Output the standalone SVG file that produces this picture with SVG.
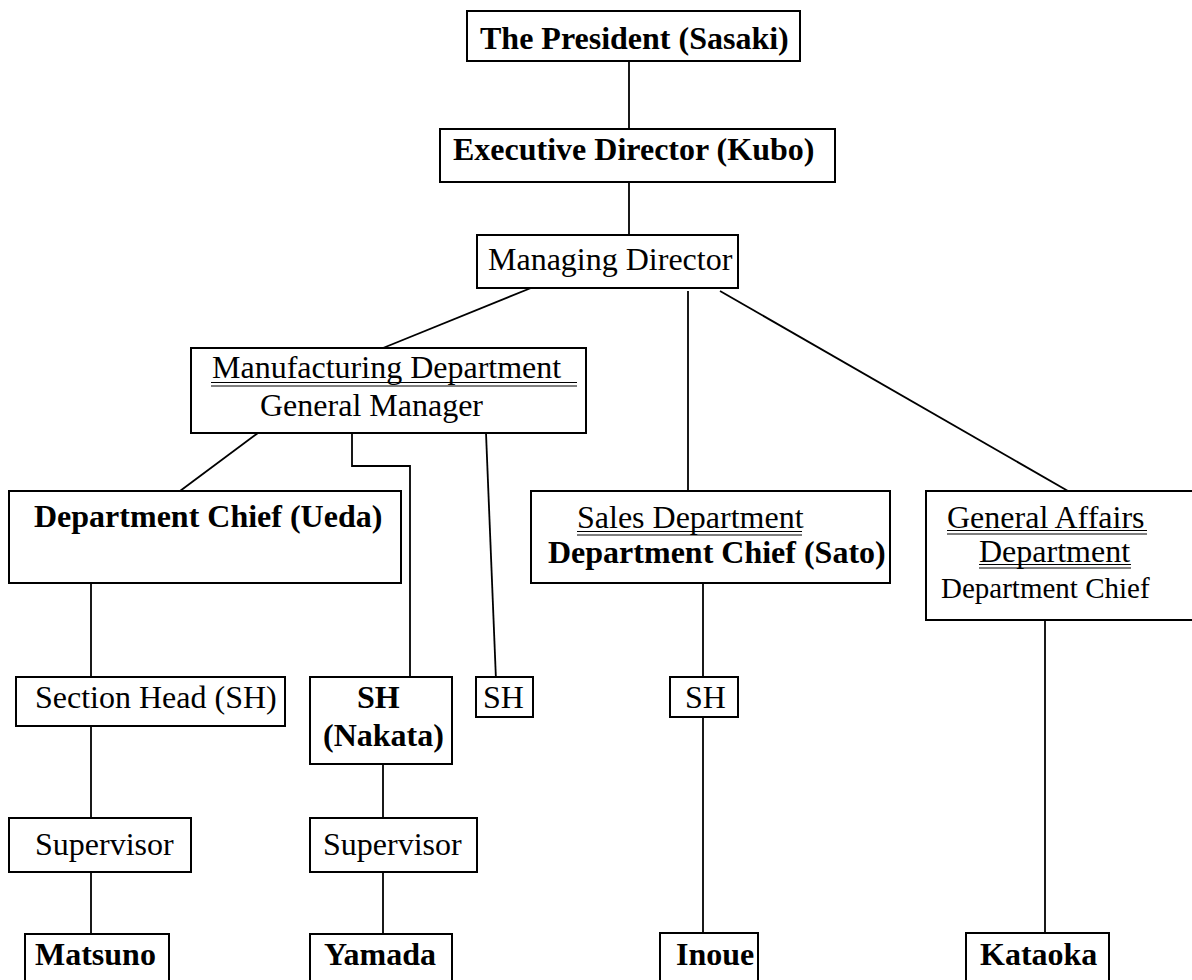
<svg xmlns="http://www.w3.org/2000/svg" width="1192" height="980" viewBox="0 0 1192 980">
<style>
  .box{fill:#fff;stroke:#000;stroke-width:2}
  .t{font-family:"Liberation Serif","Times New Roman",serif;font-size:32px;fill:#000}
  .b{font-weight:bold}
  .ul{stroke:#000;stroke-width:1.2}
  .c{fill:none;stroke:#000;stroke-width:1.8}
</style>
<rect width="1192" height="980" fill="#fff"/>
<g id="connectors">
  <line class="c" x1="629" y1="61" x2="629" y2="129"/>
  <line class="c" x1="629" y1="182" x2="629" y2="235"/>
  <line class="c" x1="531" y1="288" x2="383" y2="348"/>
  <line class="c" x1="688" y1="291" x2="688" y2="491"/>
  <line class="c" x1="720" y1="291" x2="1068" y2="491"/>
  <line class="c" x1="258" y1="433" x2="180" y2="491"/>
  <polyline class="c" points="352,433 352,466 410,466 410,680"/>
  <line class="c" x1="486" y1="433" x2="496" y2="680"/>
  <line class="c" x1="91" y1="583" x2="91" y2="680"/>
  <line class="c" x1="91" y1="726" x2="91" y2="818"/>
  <line class="c" x1="91" y1="872" x2="91" y2="934"/>
  <line class="c" x1="383" y1="764" x2="383" y2="818"/>
  <line class="c" x1="383" y1="872" x2="383" y2="934"/>
  <line class="c" x1="703" y1="583" x2="703" y2="680"/>
  <line class="c" x1="703" y1="717" x2="703" y2="933"/>
  <line class="c" x1="1045" y1="617" x2="1045" y2="933"/>
</g>
<g id="president">
  <rect class="box" x="467" y="11" width="333" height="50"/>
  <text class="t b" x="480" y="49">The President (Sasaki)</text>
</g>
<g id="executive">
  <rect class="box" x="440" y="129" width="395" height="53"/>
  <text class="t b" x="453" y="160">Executive Director (Kubo)</text>
</g>
<g id="managing">
  <rect class="box" x="477" y="235" width="261" height="53"/>
  <text class="t" x="488" y="270">Managing Director</text>
</g>
<g id="manufacturing">
  <rect class="box" x="191" y="348" width="395" height="85"/>
  <text class="t" x="212" y="378">Manufacturing Department</text>
  <line class="ul" x1="211" y1="382.5" x2="577" y2="382.5"/>
  <line class="ul" x1="211" y1="386" x2="577" y2="386"/>
  <text class="t" x="260" y="416">General Manager</text>
</g>
<g id="ueda">
  <rect class="box" x="9" y="491" width="392" height="92"/>
  <text class="t b" x="34" y="527">Department Chief (Ueda)</text>
</g>
<g id="sales">
  <rect class="box" x="531" y="491" width="359" height="92"/>
  <text class="t" x="577" y="528">Sales Department</text>
  <line class="ul" x1="577" y1="531.5" x2="802" y2="531.5"/>
  <line class="ul" x1="577" y1="535" x2="802" y2="535"/>
  <text class="t b" x="548" y="563">Department Chief (Sato)</text>
</g>
<g id="general-affairs">
  <rect class="box" x="926" y="491" width="280" height="129"/>
  <text class="t" x="947" y="528">General Affairs</text>
  <line class="ul" x1="947" y1="530.5" x2="1147" y2="530.5"/>
  <line class="ul" x1="947" y1="534" x2="1147" y2="534"/>
  <text class="t" x="979" y="562">Department</text>
  <line class="ul" x1="979" y1="564.5" x2="1131" y2="564.5"/>
  <line class="ul" x1="979" y1="568" x2="1131" y2="568"/>
  <text class="t" x="941" y="598" style="font-size:29px">Department Chief</text>
</g>
<g id="section-head">
  <rect class="box" x="16" y="677" width="269" height="49"/>
  <text class="t" x="35" y="708">Section Head (SH)</text>
</g>
<g id="sh-nakata">
  <rect class="box" x="310" y="677" width="142" height="87"/>
  <text class="t b" x="357" y="708">SH</text>
  <text class="t b" x="323" y="746">(Nakata)</text>
</g>
<g id="sh-mfg">
  <rect class="box" x="476" y="677" width="57" height="40"/>
  <text class="t" x="483" y="708">SH</text>
</g>
<g id="sh-sales">
  <rect class="box" x="670" y="677" width="68" height="40"/>
  <text class="t" x="685" y="708">SH</text>
</g>
<g id="supervisor-1">
  <rect class="box" x="9" y="818" width="182" height="54"/>
  <text class="t" x="35" y="855">Supervisor</text>
</g>
<g id="supervisor-2">
  <rect class="box" x="310" y="818" width="167" height="54"/>
  <text class="t" x="323" y="855">Supervisor</text>
</g>
<g id="matsuno">
  <rect class="box" x="25" y="934" width="144" height="70"/>
  <text class="t b" x="35" y="965">Matsuno</text>
</g>
<g id="yamada">
  <rect class="box" x="310" y="934" width="142" height="70"/>
  <text class="t b" x="324" y="965">Yamada</text>
</g>
<g id="inoue">
  <rect class="box" x="660" y="933" width="98" height="70"/>
  <text class="t b" x="676" y="965">Inoue</text>
</g>
<g id="kataoka">
  <rect class="box" x="966" y="933" width="143" height="70"/>
  <text class="t b" x="980" y="965">Kataoka</text>
</g>
</svg>
